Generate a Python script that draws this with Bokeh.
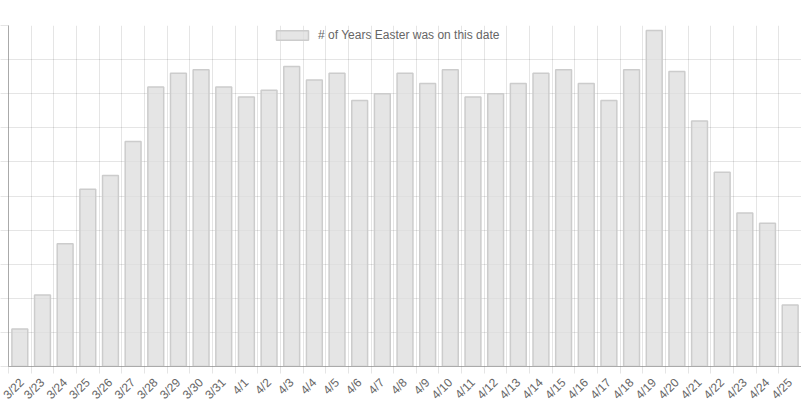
from bokeh.plotting import figure
from bokeh.models import (Range1d, FixedTicker, CustomJSTickFormatter, ColumnDataSource)
from bokeh.embed import file_html
from bokeh.resources import INLINE

dates = ["3/22", "3/23", "3/24", "3/25", "3/26", "3/27", "3/28", "3/29", "3/30", "3/31",
         "4/1", "4/2", "4/3", "4/4", "4/5", "4/6", "4/7", "4/8", "4/9", "4/10",
         "4/11", "4/12", "4/13", "4/14", "4/15", "4/16", "4/17", "4/18", "4/19", "4/20",
         "4/21", "4/22", "4/23", "4/24", "4/25"]
counts = [11, 21, 36, 52, 56, 66, 82, 86, 87, 82,
          79, 81, 88, 84, 86, 78, 80, 86, 83, 87,
          79, 80, 83, 86, 87, 83, 78, 87, 98.5, 86.5,
          72, 57, 45, 42, 18]
series_name = "# of Years Easter was on this date"

n = len(dates)
centers = [i + 0.5 for i in range(n)]
bounds = list(range(n + 1))
yticks = list(range(0, 101, 10))

src = ColumnDataSource(dict(x=centers, top=counts, label=dates))

FONT = "Liberation Sans"
TXT = "#666666"

p = figure(width=801, height=409, output_backend="svg", toolbar_location=None,
           x_range=Range1d(0, n), y_range=Range1d(0, 100),
           min_border_left=8, min_border_right=0, min_border_top=25, min_border_bottom=34)
p.outline_line_color = None
p.background_fill_color = "white"

p.vbar(x="x", top="top", width=0.7, source=src,
       fill_color="#dcdcdc", fill_alpha=0.75,
       line_color="#cccccc", line_width=1.5,
       legend_label=series_name)

# grids
p.xgrid.ticker = FixedTicker(ticks=bounds)
p.xgrid.grid_line_color = "black"
p.xgrid.grid_line_alpha = 0.1
p.ygrid.ticker = FixedTicker(ticks=yticks)
p.ygrid.grid_line_color = "black"
p.ygrid.grid_line_alpha = 0.1

# y axis: line and tick marks only, no labels
ya = p.yaxis[0]
ya.ticker = FixedTicker(ticks=yticks)
ya.formatter = CustomJSTickFormatter(code="return '';")
ya.major_label_standoff = 0
ya.major_tick_out = 8
ya.major_tick_in = 0
ya.major_tick_line_color = "black"
ya.major_tick_line_alpha = 0.1
ya.minor_tick_line_color = None
ya.axis_line_color = "#aaaaaa"

# x axis: labels at bar centres, tick marks at category boundaries
xa = p.xaxis[0]
xa.ticker = FixedTicker(ticks=centers, minor_ticks=bounds)
xa.formatter = CustomJSTickFormatter(args=dict(labels=dates),
                                     code="return labels[Math.floor(tick)] || '';")
xa.major_label_orientation = 0.785
xa.major_tick_line_color = None
xa.major_tick_out = 0
xa.major_tick_in = 0
xa.minor_tick_line_color = "black"
xa.minor_tick_line_alpha = 0.1
xa.minor_tick_out = 7
xa.minor_tick_in = 0
xa.major_label_standoff = 7
xa.axis_line_color = "#aaaaaa"
xa.major_label_text_font = FONT
xa.major_label_text_font_size = "12px"
xa.major_label_text_color = TXT

# legend near the top of the frame
lg = p.legend[0]
lg.location = (264, 324)
lg.orientation = "horizontal"
lg.padding = 0
lg.margin = 0
lg.spacing = 0
lg.glyph_width = 40
lg.glyph_height = 12
lg.label_standoff = 6
lg.label_text_font = FONT
lg.label_text_font_size = "12px"
lg.label_text_color = TXT
lg.label_height = 12
lg.border_line_color = None
lg.background_fill_alpha = 0

open("out.html", "w").write(file_html(p, INLINE))
